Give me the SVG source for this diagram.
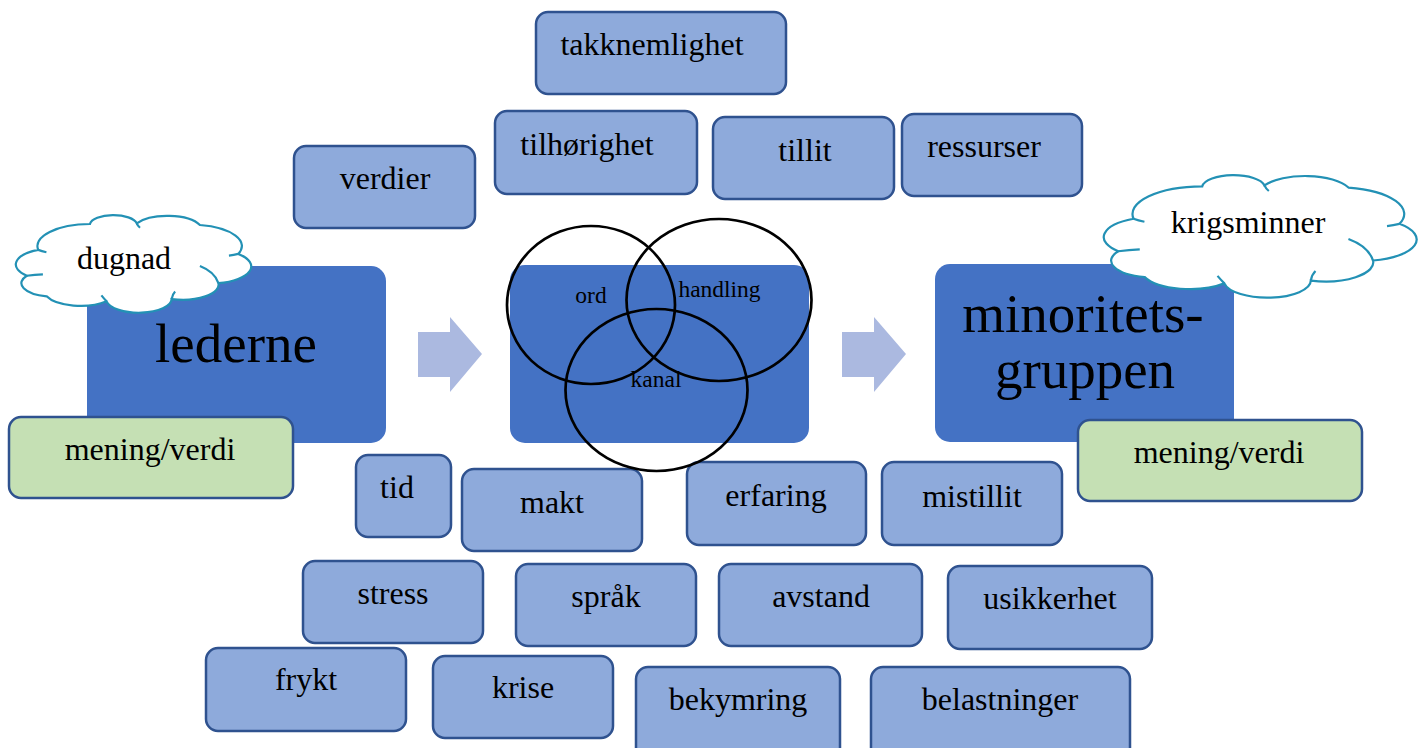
<svg xmlns="http://www.w3.org/2000/svg" xmlns:xlink="http://www.w3.org/1999/xlink" width="1424" height="748" viewBox="0 0 1424 748">
<style>
  text { font-family: "Liberation Serif", "Times New Roman", serif; fill: #000; }
  .box { fill: #8eaadb; stroke: #2f528f; stroke-width: 2.5; }
  .green { fill: #c5e0b4; stroke: #2f528f; stroke-width: 2.5; }
  .big { fill: #4472c4; }
  .lbl { font-size: 32px; text-anchor: middle; }
  .bigl { font-size: 55px; text-anchor: middle; }
  .venn { font-size: 23.5px; text-anchor: middle; }
  .circ { fill: none; stroke: #000; stroke-width: 2.7; }
  .arrow { fill: #abb9e0; }
  .cloud { fill: #fff; stroke: #2391b5; stroke-width: 2.2; vector-effect: non-scaling-stroke; }
  .hook { fill: none; stroke: #2391b5; stroke-width: 2.2; vector-effect: non-scaling-stroke; }
</style>
<defs>
  <g id="cloudShape">
    <path class="cloud" d="M 4.6 62 A 16.4 16.4 0 0 1 9.5 35.6 A 22.5 22.5 0 0 1 31.6 9.2 A 10.1 10.1 0 0 1 51.6 8.5 A 15 15 0 0 1 78.6 10.2 A 21.8 21.8 0 0 1 95 39.7 A 17.4 17.4 0 0 1 86.5 69.5 A 15.4 15.4 0 0 1 66.5 85.8 A 14 14 0 0 1 38.7 88.1 A 15.6 15.6 0 0 1 13.1 83 A 13.7 13.7 0 0 1 4.6 62 Z"/>
    <path class="hook" d="M 4.6 62 Q 8 61 11.5 60.5 M 78.6 52 Q 85 58 86.5 69.5 M 66.5 85.8 Q 66.8 81 68 78 M 38.7 88.1 Q 37.5 85 36.5 82 M 95 39.7 Q 93 41 91 41.5 M 51.6 8.5 Q 52 11 53 13 M 9.5 35.6 Q 11 37 13 38"/>
  </g>
</defs>
<rect width="1424" height="748" fill="#fff"/>

<!-- big boxes -->
<g id="lederne">
  <rect class="big" x="87" y="266" width="299" height="177" rx="15"/>
  <text class="bigl" x="236" y="362">lederne</text>
</g>
<g id="kommunikasjon">
  <rect class="big" x="510" y="265" width="299" height="178" rx="15"/>
</g>
<g id="minoritetsgruppen">
  <rect class="big" x="935" y="264" width="299" height="178" rx="15"/>
  <text class="bigl" x="1083" y="332">minoritets-</text>
  <text class="bigl" x="1085" y="388">gruppen</text>
</g>

<!-- connectors (block arrows) -->
<g id="connectors">
  <polygon class="arrow" points="418,332 450,332 450,317 482,354 450,392 450,377 418,377"/>
  <polygon class="arrow" points="842,332 874,332 874,317 906,354 874,392 874,377 842,377"/>
</g>

<!-- clouds -->
<g id="dugnad">
  <use xlink:href="#cloudShape" href="#cloudShape" transform="translate(16,215) scale(2.34,0.98)"/>
  <text class="lbl" x="124" y="269">dugnad</text>
</g>
<g id="krigsminner">
  <use xlink:href="#cloudShape" href="#cloudShape" transform="translate(1104,175) scale(3.11,1.23)"/>
  <text class="lbl" x="1248" y="233">krigsminner</text>
</g>

<!-- green boxes -->
<g id="mening-verdi-1">
  <rect class="green" x="9" y="417" width="284" height="81" rx="12"/>
  <text class="lbl" x="150" y="460">mening/verdi</text>
</g>
<g id="mening-verdi-2">
  <rect class="green" x="1078" y="420" width="284" height="81" rx="12"/>
  <text class="lbl" x="1219" y="463">mening/verdi</text>
</g>

<!-- top boxes -->
<g id="takknemlighet">
  <rect class="box" x="536" y="12" width="250" height="82" rx="12"/>
  <text class="lbl" x="652" y="55">takknemlighet</text>
</g>
<g id="tilhorighet">
  <rect class="box" x="495" y="111" width="202" height="83" rx="12"/>
  <text class="lbl" x="587" y="155">tilhørighet</text>
</g>
<g id="tillit">
  <rect class="box" x="713" y="117" width="181" height="82" rx="12"/>
  <text class="lbl" x="805" y="161">tillit</text>
</g>
<g id="ressurser">
  <rect class="box" x="902" y="114" width="180" height="82" rx="12"/>
  <text class="lbl" x="984" y="157">ressurser</text>
</g>
<g id="verdier">
  <rect class="box" x="294" y="146" width="181" height="82" rx="12"/>
  <text class="lbl" x="385" y="189">verdier</text>
</g>

<!-- bottom boxes -->
<g id="tid">
  <rect class="box" x="356" y="455" width="95" height="82" rx="12"/>
  <text class="lbl" x="397" y="498">tid</text>
</g>
<g id="makt">
  <rect class="box" x="462" y="469" width="180" height="82" rx="12"/>
  <text class="lbl" x="552" y="513">makt</text>
</g>
<g id="erfaring">
  <rect class="box" x="687" y="462" width="179" height="83" rx="12"/>
  <text class="lbl" x="776" y="506">erfaring</text>
</g>
<g id="mistillit">
  <rect class="box" x="882" y="462" width="180" height="83" rx="12"/>
  <text class="lbl" x="972" y="507">mistillit</text>
</g>
<g id="stress">
  <rect class="box" x="303" y="561" width="180" height="82" rx="12"/>
  <text class="lbl" x="393" y="604">stress</text>
</g>
<g id="sprak">
  <rect class="box" x="516" y="564" width="180" height="82" rx="12"/>
  <text class="lbl" x="606" y="607">språk</text>
</g>
<g id="avstand">
  <rect class="box" x="719" y="564" width="203" height="82" rx="12"/>
  <text class="lbl" x="821" y="607">avstand</text>
</g>
<g id="usikkerhet">
  <rect class="box" x="948" y="566" width="204" height="83" rx="12"/>
  <text class="lbl" x="1050" y="609">usikkerhet</text>
</g>
<g id="frykt">
  <rect class="box" x="206" y="648" width="200" height="83" rx="12"/>
  <text class="lbl" x="306" y="690">frykt</text>
</g>
<g id="krise">
  <rect class="box" x="433" y="656" width="180" height="82" rx="12"/>
  <text class="lbl" x="523" y="698">krise</text>
</g>
<g id="bekymring">
  <rect class="box" x="636" y="667" width="204" height="95" rx="12"/>
  <text class="lbl" x="738" y="710">bekymring</text>
</g>
<g id="belastninger">
  <rect class="box" x="871" y="667" width="259" height="95" rx="12"/>
  <text class="lbl" x="1000" y="710">belastninger</text>
</g>

<!-- Venn circles -->
<g id="venn">
  <ellipse class="circ" cx="591" cy="305" rx="84" ry="79"/>
  <ellipse class="circ" cx="719" cy="300" rx="92.5" ry="81"/>
  <ellipse class="circ" cx="656.5" cy="390" rx="91" ry="81"/>
  <text class="venn" x="591" y="303">ord</text>
  <text class="venn" x="719.5" y="297">handling</text>
  <text class="venn" x="656" y="387">kanal</text>
</g>
</svg>
